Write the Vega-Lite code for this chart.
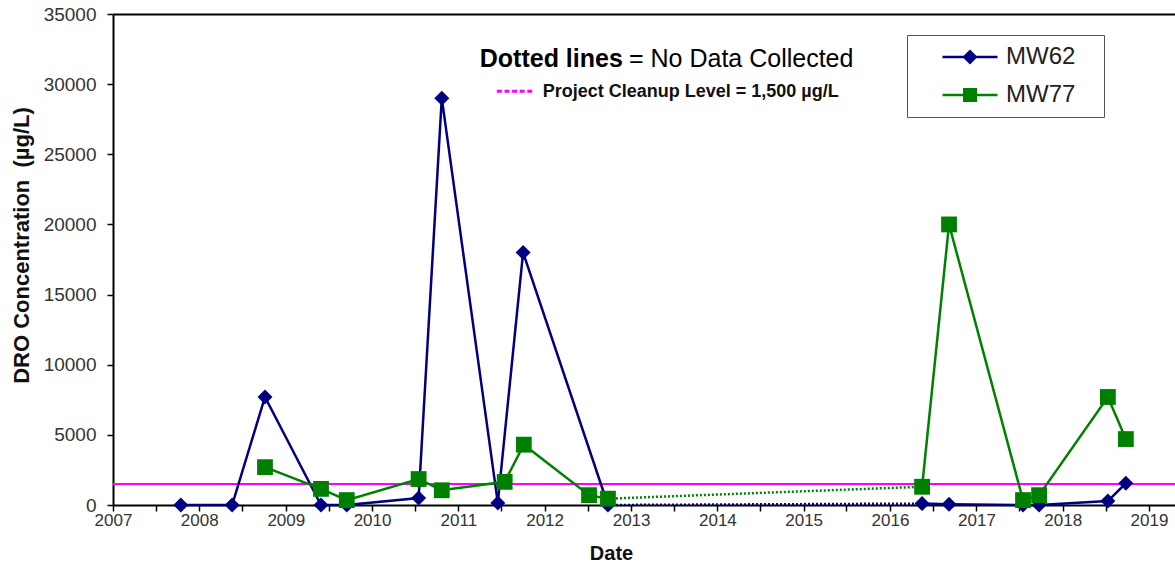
{
  "$schema": "https://vega.github.io/schema/vega-lite/v6.json",
  "width": 1062,
  "height": 491,
  "autosize": {"type": "none"},
  "padding": {"left": 113, "top": 14, "right": 0, "bottom": 57},
  "background": "white",
  "config": {"view": {"stroke": null}, "font": "Liberation Sans"},
  "data": {
    "format": {"parse": {"date": "date"}},
    "values": [
      {"well": "MW62", "seg": "A", "date": "2007-10-15", "value": 0},
      {"well": "MW62", "seg": "A", "date": "2008-05-19", "value": 0},
      {"well": "MW62", "seg": "A", "date": "2008-10-05", "value": 7700},
      {"well": "MW62", "seg": "A", "date": "2009-05-30", "value": 0},
      {"well": "MW62", "seg": "A", "date": "2009-09-16", "value": 0},
      {"well": "MW62", "seg": "A", "date": "2010-07-17", "value": 500},
      {"well": "MW62", "seg": "A", "date": "2010-10-23", "value": 29000},
      {"well": "MW62", "seg": "A", "date": "2011-06-17", "value": 150},
      {"well": "MW62", "seg": "A", "date": "2011-10-02", "value": 18000},
      {"well": "MW62", "seg": "A", "date": "2012-09-25", "value": 0},
      {"well": "MW62", "seg": "B", "date": "2016-05-16", "value": 100},
      {"well": "MW62", "seg": "B", "date": "2016-09-07", "value": 50},
      {"well": "MW62", "seg": "B", "date": "2017-07-17", "value": 0},
      {"well": "MW62", "seg": "B", "date": "2017-09-23", "value": 0},
      {"well": "MW62", "seg": "B", "date": "2018-07-11", "value": 280},
      {"well": "MW62", "seg": "B", "date": "2018-09-25", "value": 1550},
      {"well": "MW77", "seg": "A", "date": "2008-10-05", "value": 2700},
      {"well": "MW77", "seg": "A", "date": "2009-05-30", "value": 1150},
      {"well": "MW77", "seg": "A", "date": "2009-09-16", "value": 350},
      {"well": "MW77", "seg": "A", "date": "2010-07-17", "value": 1850},
      {"well": "MW77", "seg": "A", "date": "2010-10-23", "value": 1050},
      {"well": "MW77", "seg": "A", "date": "2011-07-16", "value": 1650},
      {"well": "MW77", "seg": "A", "date": "2011-10-05", "value": 4300},
      {"well": "MW77", "seg": "A", "date": "2012-07-07", "value": 700},
      {"well": "MW77", "seg": "A", "date": "2012-09-25", "value": 450},
      {"well": "MW77", "seg": "B", "date": "2016-05-16", "value": 1300},
      {"well": "MW77", "seg": "B", "date": "2016-09-07", "value": 20000},
      {"well": "MW77", "seg": "B", "date": "2017-07-17", "value": 350},
      {"well": "MW77", "seg": "B", "date": "2017-09-23", "value": 700},
      {"well": "MW77", "seg": "B", "date": "2018-07-11", "value": 7700},
      {"well": "MW77", "seg": "B", "date": "2018-09-25", "value": 4700}
    ]
  },
  "layer": [
    {
      "data": {"values": [{"level": 1500}]},
      "mark": {"type": "rule", "color": "#ff00ff", "strokeWidth": 2},
      "encoding": {"y": {"field": "level", "type": "quantitative"}}
    },
    {
      "transform": [{"filter": "datum.well === 'MW62' && datum.date >= datetime(2012,8,1) && datum.date <= datetime(2016,4,30)"}],
      "mark": {"type": "line", "color": "#000080", "strokeWidth": 2.5, "strokeDash": [2, 2]},
      "encoding": {
        "x": {"field": "date", "type": "temporal"},
        "y": {"field": "value", "type": "quantitative"}
      }
    },
    {
      "transform": [{"filter": "datum.well === 'MW77' && datum.date >= datetime(2012,8,1) && datum.date <= datetime(2016,4,30)"}],
      "mark": {"type": "line", "color": "#008000", "strokeWidth": 2.5, "strokeDash": [2, 2]},
      "encoding": {
        "x": {"field": "date", "type": "temporal"},
        "y": {"field": "value", "type": "quantitative"}
      }
    },
    {
      "mark": {"type": "line", "strokeWidth": 2.5},
      "encoding": {
        "x": {
          "field": "date",
          "type": "temporal",
          "title": "Date",
          "scale": {"domain": [{"year": 2007, "month": 1, "date": 1}, {"year": 2019, "month": 4, "date": 21}]},
          "axis": {
            "tickCount": {"interval": "month", "step": 6},
            "labelExpr": "month(datum.value) === 0 ? timeFormat(datum.value, '%Y') : ''",
            "tickSize": 6,
            "encode": {"ticks": {"update": {"y2": {"signal": "month(datum.value) === 0 ? 6 : -5"}}}},
            "labelFontSize": 17,
            "labelFont": "Liberation Sans",
            "labelColor": "#333333",
            "labelPadding": 1,
            "labelFlush": false,
            "labelOverlap": false,
            "domainColor": "black",
            "domainWidth": 2,
            "tickColor": "black",
            "tickWidth": 1.5,
            "grid": false,
            "titleFont": "Liberation Sans",
            "titleFontSize": 20,
            "titleFontWeight": "bold",
            "titleColor": "#111111",
            "titleX": 498,
            "titleY": 54,
            "titleBaseline": "alphabetic"
          }
        },
        "y": {
          "field": "value",
          "type": "quantitative",
          "title": "DRO Concentration\u00a0 (µg/L)",
          "scale": {"domain": [0, 35000], "nice": false},
          "axis": {
            "values": [0, 5000, 10000, 15000, 20000, 25000, 30000, 35000],
            "format": "d",
            "labelFontSize": 19,
            "labelFont": "Liberation Sans",
            "labelColor": "#333333",
            "labelPadding": 11,
            "tickSize": 6,
            "tickColor": "black",
            "tickWidth": 1.5,
            "domainColor": "black",
            "domainWidth": 2,
            "grid": true,
            "gridColor": {"condition": {"test": "datum.value === 35000", "value": "black"}, "value": "transparent"},
            "gridWidth": 2,
            "titleFont": "Liberation Sans",
            "titleFontSize": 22,
            "titleFontWeight": "bold",
            "titleColor": "#111111",
            "titleAngle": -90,
            "titleAlign": "center",
            "titleBaseline": "bottom",
            "titleX": -80,
            "titleY": 231
          }
        },
        "color": {
          "field": "well",
          "type": "nominal",
          "scale": {"domain": ["MW62", "MW77"], "range": ["#000080", "#008000"]},
          "legend": {
            "title": null,
            "orient": "none",
            "legendX": 794,
            "legendY": 21,
            "padding": 10,
            "strokeColor": "#555555",
            "fillColor": "white",
            "labelFontSize": 24,
            "labelFont": "Liberation Sans",
            "labelColor": "#222222",
            "labelExpr": "datum.label + '\u2800'",
            "symbolSize": 400,
            "symbolOffset": 41,
            "labelOffset": 24,
            "rowPadding": 14,
            "encode": {
              "symbols": {
                "update": {
                  "shape": {"signal": "datum.value === 'MW62' ? 'M-2.75,-0.12H-0.63L0,-0.75L0.63,-0.12H2.75V0.12H0.63L0,0.75L-0.63,0.12H-2.75Z' : 'M-2.75,-0.12H-0.7V-0.7H0.7V-0.12H2.75V0.12H0.7V0.7H-0.7V0.12H-2.75Z'"},
                  "fill": {"signal": "datum.value === 'MW62' ? '#000080' : '#008000'"},
                  "stroke": {"value": "transparent"},
                  "strokeWidth": {"value": 0},
                  "opacity": {"value": 1}
                }
              }
            }
          }
        },
        "detail": {"field": "seg"}
      }
    },
    {
      "transform": [{"filter": "datum.well === 'MW62'"}],
      "mark": {"type": "point", "shape": "diamond", "filled": true, "size": 225, "color": "#000080", "opacity": 1},
      "encoding": {
        "x": {"field": "date", "type": "temporal"},
        "y": {"field": "value", "type": "quantitative"}
      }
    },
    {
      "transform": [{"filter": "datum.well === 'MW77'"}],
      "mark": {"type": "point", "shape": "square", "filled": true, "size": 250, "color": "#008000", "opacity": 1},
      "encoding": {
        "x": {"field": "date", "type": "temporal"},
        "y": {"field": "value", "type": "quantitative"}
      }
    },
    {
      "data": {"values": [{"label": "Dotted lines"}]},
      "mark": {"type": "text", "font": "Liberation Sans", "fontSize": 25, "fontWeight": "bold", "align": "right", "baseline": "alphabetic", "color": "black"},
      "encoding": {
        "x": {"datum": {"year": 2012, "month": 11, "date": 27}, "type": "temporal"},
        "y": {"datum": 31200, "type": "quantitative"},
        "text": {"field": "label"}
      }
    },
    {
      "data": {"values": [{"label": "= No Data Collected"}]},
      "mark": {"type": "text", "font": "Liberation Sans", "fontSize": 25, "align": "left", "baseline": "alphabetic", "color": "black"},
      "encoding": {
        "x": {"datum": {"year": 2012, "month": 12, "date": 23}, "type": "temporal"},
        "y": {"datum": 31200, "type": "quantitative"},
        "text": {"field": "label"}
      }
    },
    {
      "data": {"values": [{"level": 29500}]},
      "mark": {"type": "rule", "color": "#ff00ff", "strokeWidth": 3, "strokeDash": [5, 2.6]},
      "encoding": {
        "x": {"datum": {"year": 2011, "month": 6, "date": 13}, "type": "temporal"},
        "x2": {"datum": {"year": 2011, "month": 11, "date": 20}},
        "y": {"field": "level", "type": "quantitative"}
      }
    },
    {
      "data": {"values": [{"label": "Project Cleanup Level = 1,500 µg/L"}]},
      "mark": {"type": "text", "font": "Liberation Sans", "fontSize": 18, "fontWeight": "bold", "align": "left", "baseline": "alphabetic", "color": "#111111"},
      "encoding": {
        "x": {"datum": {"year": 2011, "month": 12, "date": 24}, "type": "temporal"},
        "y": {"datum": 29100, "type": "quantitative"},
        "text": {"field": "label"}
      }
    }
  ]
}
